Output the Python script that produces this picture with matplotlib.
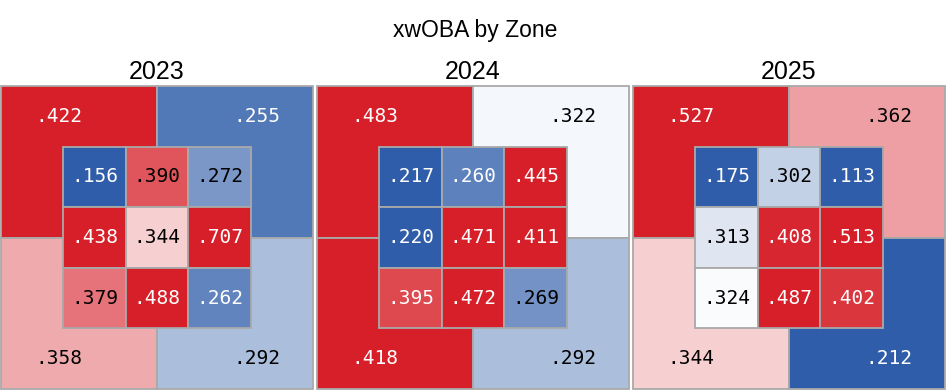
import numpy as np
import matplotlib.pyplot as plt
from matplotlib.colors import LinearSegmentedColormap, Normalize
from matplotlib.patches import Rectangle

years = ["2023", "2024", "2025"]

# outer shadow quadrants: top-left, top-right, bottom-left, bottom-right
outer_2023 = [0.422, 0.255, 0.358, 0.292]
outer_2024 = [0.483, 0.322, 0.418, 0.292]
outer_2025 = [0.527, 0.362, 0.344, 0.212]

# inner 3x3 zone, rows from top to bottom
inner_2023 = [[0.156, 0.390, 0.272],
              [0.438, 0.344, 0.707],
              [0.379, 0.488, 0.262]]
inner_2024 = [[0.217, 0.260, 0.445],
              [0.220, 0.471, 0.411],
              [0.395, 0.472, 0.269]]
inner_2025 = [[0.175, 0.302, 0.113],
              [0.313, 0.408, 0.513],
              [0.324, 0.487, 0.402]]

outers = [outer_2023, outer_2024, outer_2025]
inners = [inner_2023, inner_2024, inner_2025]

cmap = LinearSegmentedColormap.from_list("zone", ["#2F5DA9", "#FFFFFF", "#D61F28"])
norm = Normalize(vmin=0.241, vmax=0.411)
center = 0.327
edge = "#A9A9A9"


def txt_color(v):
    return "white" if abs(v - center) > 0.064 else "black"


fig = plt.figure(figsize=(9.5, 3.9), dpi=100)
fig.text(0.5, 0.922, "xwOBA by Zone", ha="center", va="center",
         fontsize=16.5, family="Liberation Sans")

lefts = [1, 317, 633]
for i, year in enumerate(years):
    ax = fig.add_axes([lefts[i] / 950, 1 / 390, 312 / 950, 303 / 390])
    ax.set_xlim(0, 5)
    ax.set_ylim(0, 5)
    ax.axis("off")
    ax.set_title(year, fontsize=18, family="Liberation Sans", pad=5)

    o = outers[i]
    quads = [(0, 2.5), (2.5, 2.5), (0, 0), (2.5, 0)]
    for (x0, y0), v in zip(quads, o):
        ax.add_patch(Rectangle((x0, y0), 2.5, 2.5, facecolor=cmap(norm(v)),
                               edgecolor=edge, lw=1.3, clip_on=False))
    lab_pos = [(0.92, 4.49), (4.1, 4.49), (0.92, 0.5), (4.1, 0.5)]
    for (x, y), v in zip(lab_pos, o):
        ax.text(x, y, f"{v:.3f}"[1:], ha="center", va="center", fontsize=14,
                family="DejaVu Sans Mono", color=txt_color(v))

    grid = np.array(inners[i])
    for r in range(3):
        for c in range(3):
            v = grid[r, c]
            x0 = 1 + c
            y0 = 3 - r
            ax.add_patch(Rectangle((x0, y0), 1, 1, facecolor=cmap(norm(v)),
                                   edgecolor=edge, lw=1.3))
            ax.text(x0 + 0.5, y0 + 0.5, f"{v:.3f}"[1:], ha="center", va="center",
                    fontsize=14, family="DejaVu Sans Mono", color=txt_color(v))

fig.savefig("out.png", dpi=100)
